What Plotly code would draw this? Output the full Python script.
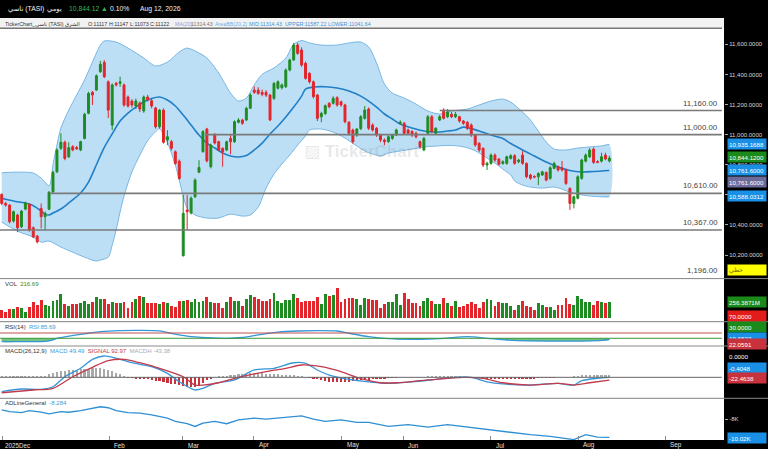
import plotly.graph_objects as go

W, H = 768, 449

# ---------------- data ----------------
open_ = [10603,10543,10532,10426,10466,10388,10505,10538,10381,10326,
         10510,10455,10505,10620,10753,10909,10949,10853,10920,10915,
         10898,10975,11142,11281,11296,11418,11480,11351,11063,11341,
         11341,11330,11250,11223,11190,11210,11157,11250,11225,11177,
         11052,11163,10964,10953,10886,10824,10196,10499,10479,10587,
         10750,10887,11037,10787,10997,10953,10909,10898,10975,10953,
         11082,11097,11097,11175,11296,11296,11281,11281,11263,11241,
         11308,11312,11318,11429,11496,11595,11562,11474,11407,11351,
         11263,11119,11141,11208,11208,11245,11219,11197,11082,11031,
         10997,11040,11108,11170,11064,11042,10997,10964,10953,10975,
         10997,11075,11075,11031,11020,11009,10953,10898,11009,11119,
         11009,11097,11163,11119,11135,
         11119,11119,11090,11082,11064,10997,10942,10909,10798,10809,
         10864,10838,10809,10809,10842,10860,10820,10864,10809,10732,
         10722,10720,10732,10749,10710,10776,10787,10780,10765,10643,
         10543,10577,10710,10824,10853,10904,10820,10824,10864,10825]
high = [10610,10554,10538,10495,10475,10500,10555,10545,10390,10333,
        10543,10490,10625,10760,10910,11009,10960,10950,10930,10925,
        10960,11145,11285,11290,11400,11490,11495,11360,11340,11350,
        11385,11340,11260,11235,11240,11220,11260,11265,11240,11185,
        11170,11175,11030,10965,10895,10835,10599,10599,10590,10710,
        10830,11030,11045,10940,11010,10960,10915,10960,11000,11095,
        11110,11105,11185,11275,11320,11315,11300,11295,11270,11350,
        11360,11340,11440,11505,11610,11610,11580,11485,11415,11360,
        11270,11152,11200,11215,11255,11255,11225,11205,11090,11040,
        11045,11130,11190,11180,11075,11050,11005,10975,10995,11005,
        11040,11095,11085,11040,11030,11020,10960,10985,11130,11130,
        11050,11130,11175,11170,11150,
        11150,11125,11097,11090,11075,11005,10950,10915,10820,10875,
        10875,10845,10830,10860,10870,10870,10840,10890,10815,10740,
        10730,10750,10760,10755,10790,10820,10795,10825,10775,10650,
        10595,10730,10840,10875,10910,10915,10830,10880,10880,10860]
low = [10532,10521,10410,10415,10352,10380,10498,10355,10312,10278,
       10377,10366,10498,10612,10745,10898,10830,10845,10890,10900,
       10890,10968,11135,11197,11290,11410,11375,11110,11030,11320,
       11318,11185,11180,11180,11170,11150,11145,11220,11175,11040,
       11040,10940,10930,10895,10800,10700,10190,10366,10470,10580,
       10745,10880,10815,10775,10935,10890,10787,10890,10870,10945,
       11075,11065,11090,11170,11270,11265,11255,11250,11090,11230,
       11300,11300,11310,11420,11490,11530,11450,11365,11340,11240,
       11090,11082,11130,11175,11200,11185,11185,11075,10995,10940,
       10985,11030,11100,11030,11020,10985,10950,10930,10945,10965,
       10990,11065,11000,11000,10985,10975,10905,10890,11000,11010,
       11000,11090,11100,11110,11110,
       11110,11080,11065,11030,10985,10920,10885,10785,10765,10800,
       10820,10795,10800,10800,10835,10800,10810,10800,10710,10700,
       10710,10665,10725,10690,10700,10770,10755,10755,10665,10500,
       10510,10570,10700,10815,10845,10805,10810,10815,10830,10815]
close = [10543,10532,10421,10488,10381,10492,10547,10366,10321,10288,
         10455,10477,10617,10749,10898,10949,10842,10913,10898,10905,
         10953,11135,11274,11263,11391,11467,11385,11163,11330,11330,
         11351,11197,11190,11197,11223,11170,11250,11230,11190,11052,
         11163,10949,10986,10909,10809,10709,10477,10488,10578,10698,
         10782,11020,10826,10931,10945,10898,10886,10953,10953,11086,
         11097,11075,11175,11263,11281,11274,11268,11263,11097,11340,
         11351,11330,11429,11496,11595,11540,11462,11374,11351,11252,
         11108,11141,11192,11185,11241,11197,11197,11086,11009,10953,
         11037,11119,11163,11042,11031,10997,10964,10953,10986,10997,
         11031,11082,11009,11009,10997,10986,10920,10975,11119,11020,
         11042,11119,11108,11152,11119,
         11135,11090,11075,11042,10997,10931,10898,10798,10810,10864,
         10831,10803,10820,10853,10860,10809,10831,10809,10720,10710,
         10718,10742,10753,10698,10780,10809,10765,10765,10676,10543,
         10587,10720,10831,10864,10898,10816,10816,10853,10838,10844.12]
volume = [128,92,139,139,169,154,103,180,246,205,
          282,205,195,267,282,374,215,190,215,215,
          241,267,215,256,323,292,292,215,246,231,
          231,246,154,246,292,349,333,231,231,231,
          221,246,231,190,169,272,267,282,246,303,
          256,272,333,246,231,231,164,251,333,267,
          267,195,298,364,323,303,267,267,292,395,
          267,231,282,282,369,318,256,267,272,272,
          323,221,369,344,359,462,
          256,292,308,318,292,205,318,292,282,282,
          164,215,246,246,374,205,385,292,231,231,
          190,272,318,267,215,215,308,231,190,272,
          180,190,215,246,221,154,246,298,282,195,
          246,231,231,190,128,205,267,195,180,128,
          241,205,180,180,128,205,205,308,215,205,
          344,298,256,256,205,272,256,231,256.3871]

bb_up_x = [0,4,8,10,12,13,14,15,17,19,21,23,25,26,29,32,36,39,42,45,
           47,50,52,55,58,60,62,64,66,69,72,74,76,78,81,85,88,91,93,95,
           97,99,102,105,108,111,114,118,121,124,127,129,132,134,136,138,140,143,146,149,
           152,154]
bb_up_v = [10747,10751,10745,10712,10660,10800,10931,11044,11163,11263,11363,11482,11595,11622,11615,11575,11509,11456,11482,11549,
           11575,11542,11509,11409,11276,11223,11243,11330,11400,11443,11509,11600,11625,11609,11595,11595,11609,11615,11582,11476,
           11336,11276,11243,11203,11157,11137,11157,11170,11197,11223,11236,11216,11150,11097,11024,10951,10904,10898,10911,10918,
           10925,10935.1688]
bb_lo_x = [0,4,8,10,12,15,18,21,24,25,27,28,29,30,31,33,35,37,39,40,
           41,42,44,45,46,47,49,52,55,58,61,63,65,67,69,71,73,75,77,78,
           81,84,87,90,92,94,96,98,101,104,107,110,113,116,119,121,123,125,127,129,
           130,132,134,137,140,142,144,146,148,151,154]
bb_lo_v = [10419,10359,10319,10286,10293,10253,10219,10186,10160,10167,10186,10266,10366,10486,10592,10752,10864,10960,11020,11040,
           11000,10950,10798,10698,10592,10512,10466,10446,10446,10472,10459,10466,10519,10645,10738,10805,10864,10931,10991,11031,
           11037,11017,10977,10924,10891,10871,10858,10878,10891,10904,10918,10924,10928,10924,10904,10878,10844,10811,10771,10732,
           10692,10665,10652,10645,10652,10638,10618,10605,10595,10588,10588.0312]
bb_mid_x = [0,3,7,9,11,12,13,15,17,20,22,24,26,28,30,32,34,36,38,
            40,42,44,46,48,50,52,54,56,58,60,62,64,66,68,70,72,74,76,77,
            79,82,85,88,91,93,95,97,99,101,104,107,110,113,115,117,119,121,124,127,
            129,132,135,138,141,144,147,150,154]
bb_mid_v = [10577,10559,10539,10512,10472,10466,10479,10506,10546,10612,10685,10800,10915,11005,11090,11143,11183,11217,11240,
            11250,11230,11190,11130,11064,10997,10944,10911,10878,10858,10851,10861,10898,10944,11004,11057,11117,11183,11256,11303,
            11316,11318,11310,11290,11256,11223,11183,11137,11104,11070,11044,11024,11017,11024,11031,11050,11040,11024,10997,10974,
            10941,10898,10858,10818,10785,10762,10752,10755,10761.6]

rsi_x = [0,6,11,13,14,16,19,22,25,30,35,40,43,47,52,57,60,63,66,70,75,80,85,88,93,98,105,112,118,123,128,133,140,147,151,154]
rsi_v = [5,5,6,18,30,40,55,68,80,88,90,86,67,47,35,30,34,45,60,77,85,88,85,68,42,27,22,30,42,30,17,10,9,9,12,19.65]

macd_x = [0,5,10,13,16,20,23,26,29,33,38,42,45,49,51,54,59,64,69,74,77,80,83,88,93,98,104,110,115,119,123,127,134,141,145,147,151,154]
macd_v = [-119,-97,-100,-78,5,75,149,177,158,121,88,33,-37,-105,-91,-50,-22,61,75,121,116,61,19,-17,-37,-50,-37,-17,0,0,-37,-55,-64,-50,-64,-28,-8,-0.4048]
signal_x = [0,8,13,18,23,27,31,35,40,46,49,51,55,60,67,72,76,81,86,90,96,100,108,117,122,127,134,141,145,149,154]
signal_v = [-128,-105,-91,5,83,138,149,121,75,5,-64,-64,-45,0,47,75,102,88,47,0,-45,-45,-22,0,-8,-45,-64,-50,-64,-45,-22.4638]
macd_hist = [8,8,8,8,8,8,8,8,8,10,12,15,
             25,33,41,
             50,55,58,62,64,66,
             70,72,74,75,74,72,
             62,50,38,25,12,
             -5,-8,-10,-13,-16,-18,-22,-28,-34,-40,-45,-52,-58,-64,-72,-80,-84,-78,-66,-45,-25,
             -10,
             5,8,12,15,18,22,25,28,30,32,33,33,32,30,28,26,24,22,20,18,16,14,10,6,
             -4,-10,-18,-26,-34,-40,-42,-42,-40,-38,-35,-32,-30,-26,
             -22,-20,-18,-15,-12,-10,-8,-5,-3,
             -1,1,2,3,4,5,6,
             8,10,12,14,14,13,12,10,8,5,
             2,-2,-5,
             -8,-10,-12,-14,-15,-16,-16,-16,-15,-14,-13,-12,-11,-10,-10,-9,-8,-6,-4,
             -2,0,2,4,6,10,14,
             18,20,21,22,22,22,22,22]

adl_x = [0,2,5,7,10,12,15,17,20,22,25,27,29,32,35,38,42,44,47,49,51,54,57,60,64,67,70,72,76,79,
         82,86,90,93,98,103,108,113,118,123,128,134,139,142,145,148,151,154]
adl_v = [-6.98,-7.16,-7.27,-7.05,-7.23,-7.41,-7.16,-7.23,-7.05,-6.91,-6.62,-6.73,-7.05,-7.27,-7.34,-7.52,-7.89,-8.25,-8.51,-8.81,
         -8.44,-8.25,-8.51,-8.08,-7.89,-8.0,-7.89,-7.82,-7.63,-8.0,-8.25,-8.08,-8.36,-8.36,-8.81,-8.62,-8.88,-8.62,-8.88,-9.18,
         -9.36,-9.73,-9.91,-10.1,-10.28,-9.73,-9.99,-10.02]

month_labels = ["2025Dec", "Feb", "Mar", "Apr", "May", "Jun", "Jul", "Aug", "Sep"]
month_pos = [0.08, 27.3, 45.9, 63.9, 86.2, 101.7, 124.0, 146.05, 168.1]

hline_vals = [11160, 11000, 10610, 10367]
hline_from = [111, 51.5, 12.2, -0.43]
hline_text = ["11,160.00", "11,000.00", "10,610.00", "10,367.00"]

price_ticks = [10200, 10400, 10600, 10800, 11000, 11200, 11400, 11600]

# ---------------- styling ----------------
FONT = "Liberation Sans, Arial, DejaVu Sans, sans-serif"
GREEN = "#1e8c22"
RED = "#e2262b"
BLUE = "#3596d8"
X_RANGE = [-0.431, 183.05]
X_END = 182.5
XDOM = [0, 724 / W]
P_RANGE = [10043.7, 11708.3]


def py(y):
    return 1 - y / H


def px(x):
    return x / W


idx = list(range(len(close)))
up = [c >= o for o, c in zip(open_, close)]

fig = go.Figure()

# Bollinger area (base price axis)
fig.add_trace(go.Scatter(x=bb_up_x + bb_lo_x[::-1], y=bb_up_v + bb_lo_v[::-1], fill="toself",
                         fillcolor="#bddff6", line=dict(width=0, shape="spline", smoothing=0.8),
                         mode="lines", hoverinfo="skip", xaxis="x", yaxis="y"))
for xs, vs in ((bb_up_x, bb_up_v), (bb_lo_x, bb_lo_v)):
    fig.add_trace(go.Scatter(x=xs, y=vs, mode="lines", line=dict(color="#78b6e2", width=1, shape="spline", smoothing=0.8),
                             hoverinfo="skip", xaxis="x", yaxis="y"))
fig.add_trace(go.Scatter(x=bb_mid_x, y=bb_mid_v, mode="lines", line=dict(color="#1f7fc8", width=1.6, shape="spline", smoothing=0.8),
                         hoverinfo="skip", xaxis="x", yaxis="y"))

# candles on an overlaying axis so they sit above the band fill
fig.add_trace(go.Candlestick(x=idx, open=open_, high=high, low=low, close=close,
                             increasing=dict(line=dict(color=GREEN, width=1), fillcolor=GREEN),
                             decreasing=dict(line=dict(color=RED, width=1), fillcolor=RED),
                             whiskerwidth=0, xaxis="x", yaxis="y6", hoverinfo="skip"))

# Volume
fig.add_trace(go.Bar(x=idx, y=volume, marker=dict(color=[GREEN if u else RED for u in up], line_width=0),
                     width=0.72, xaxis="x2", yaxis="y2", hoverinfo="skip"))


# RSI fills
def zone_polys(xs, vs, thr):
    polys, cur = [], []
    for xv, vv in zip(xs, vs):
        if vv <= thr:
            cur.append((xv, vv))
        else:
            if len(cur) >= 2:
                polys.append(cur)
            cur = []
    if len(cur) >= 2:
        polys.append(cur)
    return polys


for poly in zone_polys(rsi_x, rsi_v, 30):
    xs = [poly[0][0]] + [p[0] for p in poly] + [poly[-1][0]]
    ys = [30] + [p[1] for p in poly] + [30]
    fig.add_trace(go.Scatter(x=xs, y=ys, fill="toself", fillcolor="rgba(70,175,80,0.75)", mode="lines",
                             line=dict(width=0, shape="spline", smoothing=0.8), hoverinfo="skip", xaxis="x3", yaxis="y3"))
fig.add_trace(go.Scatter(x=rsi_x, y=rsi_v, mode="lines", line=dict(color=BLUE, width=1.3, shape="spline", smoothing=0.8),
                         hoverinfo="skip", xaxis="x3", yaxis="y3"))

# MACD
fig.add_trace(go.Bar(x=idx, y=macd_hist, marker=dict(color=["#a9a9a9" if h >= 0 else "#c8323c" for h in macd_hist], line_width=0),
                     width=0.55, xaxis="x4", yaxis="y4", hoverinfo="skip"))
fig.add_trace(go.Scatter(x=macd_x, y=macd_v, mode="lines", line=dict(color=BLUE, width=1.3, shape="spline", smoothing=0.8),
                         hoverinfo="skip", xaxis="x4", yaxis="y4"))
fig.add_trace(go.Scatter(x=signal_x, y=signal_v, mode="lines", line=dict(color="#c23a4c", width=1.3, shape="spline", smoothing=0.8),
                         hoverinfo="skip", xaxis="x4", yaxis="y4"))

# AD line
fig.add_trace(go.Scatter(x=adl_x, y=adl_v, mode="lines", line=dict(color="#2f8fd3", width=1.3),
                         hoverinfo="skip", xaxis="x5", yaxis="y5"))

# ---------------- shapes ----------------
shapes = []
shapes.append(dict(type="rect", xref="paper", yref="paper", x0=0, x1=px(724), y0=py(28), y1=py(18),
                   fillcolor="#f2f2f2", line_width=0, layer="below"))
shapes.append(dict(type="line", xref="paper", yref="paper", x0=0, x1=px(722), y0=py(28.3), y1=py(28.3),
                   line=dict(color="#777", width=1.5)))
for ysep in (278.6, 321.7, 346.0, 398.3):
    shapes.append(dict(type="line", xref="paper", yref="paper", x0=0, x1=1, y0=py(ysep), y1=py(ysep),
                       line=dict(color="#8a8a8a", width=1)))
for v, x0 in zip(hline_vals, hline_from):
    shapes.append(dict(type="line", xref="x", yref="y", x0=x0, x1=X_END, y0=v, y1=v,
                       line=dict(color="#7a7a7a", width=1.6)))
shapes.append(dict(type="line", xref="x", yref="y3", x0=X_RANGE[0], x1=X_END, y0=70, y1=70, line=dict(color="#c0504d", width=1)))
shapes.append(dict(type="line", xref="x", yref="y3", x0=X_RANGE[0], x1=X_END, y0=30, y1=30, line=dict(color="#3a9a3a", width=1)))
shapes.append(dict(type="line", xref="x", yref="y4", x0=X_RANGE[0], x1=X_END, y0=0, y1=0, line=dict(color="#666", width=1)))

# ---------------- annotations ----------------
ann = []


def text(x, y, s, color="#333", size=7, anchor="left", bold=False):
    ann.append(dict(x=px(x), y=py(y), xref="paper", yref="paper", text=("<b>%s</b>" % s) if bold else s,
                    showarrow=False, xanchor=anchor, yanchor="middle", font=dict(family=FONT, size=size, color=color)))


# header line 1
text(6, 9, "تاسي (TASI)", "#f0f0f0", 6.8)
text(45, 9, "يومي", "#f0f0f0", 6.8)
text(67, 9, "10,844.12", "#3cb54a", 6.8)
text(99, 9, "▲", "#3cb54a", 6.8)
text(108, 9, "0.10%", "#f0f0f0", 6.8)
text(138, 9, "Aug 12, 2026", "#f0f0f0", 6.8)
# header line 2
L2 = 5.3
text(3, 24, "TickerChart_تاسي (TASI) الشرق", "#333", L2)
text(86, 24, "O:11117", "#333", L2)
text(107, 24, "H:11147", "#333", L2)
text(128, 24, "L:11073", "#333", L2)
text(148, 24, "C:11122", "#333", L2)
text(173, 24, "MA(20)", "#9b99c9", L2)
text(189, 24, "11314.43", "#777", L2)
text(213, 24, "AreaBB(20,2)", "#5db2ea", L2)
text(247, 24, "MID:11314.43", "#3d93da", L2)
text(283, 24, "UPPER:11587.22", "#3d93da", L2)
text(326, 24, "LOWER:11041.64", "#3d93da", L2)

# horizontal line labels
for v, s in zip(hline_vals, hline_text):
    ann.append(dict(x=px(720), y=v, xref="paper", yref="y", text=s, showarrow=False, xanchor="right", yanchor="bottom",
                    yshift=1, font=dict(family=FONT, size=7.8, color="#444")))
text(720, 270, "1,196.00", "#444", 7.8, anchor="right")

# watermark
text(302, 151, "▨ TickerChart", "rgba(150,150,150,0.22)", 17, bold=True)

# panel titles
T = 6
text(3, 284, 'VOL  <span style="color:#2e8b2e">216.69</span>', "#333", T)
text(3, 326.5, 'RSI(14)  <span style="color:#3d9ad6">RSI:85.69</span>', "#333", T)
text(3, 350.5, 'MACD(26,12,9)  <span style="color:#3d9ad6">MACD 49.49</span>  <span style="color:#c23a4c">SIGNAL 92.97</span>  '
               '<span style="color:#aaa">MACDH -43.38</span>', "#333", T)
text(3, 402.5, 'ADLineGeneral  <span style="color:#3d9ad6">-8.284</span>', "#333", T)

# right-side value boxes
boxes = [
    (143.5, "10,935.1688", "#1a8fe6", "white"),
    (157.0, "10,844.1200", "#1a8a1a", "white"),
    (170.0, "10,761.6000", "#1a8fe6", "white"),
    (181.7, "10,761.6000", "#6d6a9c", "white"),
    (195.8, "10,588.0312", "#1a8fe6", "white"),
    (269.5, "خطي", "#ffff00", "#7a6a00"),
    (301.7, "256.3871M", "#1a8a1a", "white"),
    (315.7, "70.0000", "#e21b1b", "white"),
    (327.3, "30.0000", "#1a8a1a", "white"),
    (337.7, "19.6522", "#1a8fe6", "white"),
    (344.2, "22.0591", "#c8323c", "white"),
    (356.0, "0.0000", "#000000", "white"),
    (367.7, "-0.4048", "#1a8fe6", "white"),
    (378.3, "-22.4638", "#c8323c", "white"),
    (437.7, "-10.02K", "#1a8fe6", "white"),
]
for yb, s, bg, fg in boxes:
    ann.append(dict(x=px(727), y=py(yb), xref="paper", yref="paper", text=s, showarrow=False, xanchor="left",
                    yanchor="middle", bgcolor=bg, borderpad=1, width=36, height=8, align="left",
                    font=dict(family=FONT, size=6.2, color=fg)))

# month labels
for lab, pos in zip(month_labels, month_pos):
    ann.append(dict(x=pos, y=py(445), xref="x", yref="paper", text=lab, showarrow=False,
                    xanchor="left", yanchor="middle", xshift=(1 if lab == "2025Dec" else 3),
                    font=dict(family=FONT, size=6.3, color="#e0e0e0")))


# ---------------- layout ----------------
def xax(anchor, **kw):
    d = dict(domain=XDOM, range=X_RANGE, showgrid=False, zeroline=False, showticklabels=False, showline=False,
             anchor=anchor, fixedrange=True)
    d.update(kw)
    return d


def yax(dom, rng, **kw):
    d = dict(domain=dom, range=rng, showgrid=False, zeroline=False, showticklabels=False, showline=False,
             side="right", fixedrange=True, automargin=False)
    d.update(kw)
    return d


MAIN_DOM = [py(278.6), py(28)]
layout = dict(
    width=W, height=H, margin=dict(l=0, r=0, t=0, b=0),
    paper_bgcolor="#000000", plot_bgcolor="#ffffff", showlegend=False,
    font=dict(family=FONT), shapes=shapes, annotations=ann, bargap=0,
    xaxis=xax("y", rangeslider=dict(visible=False)),
    xaxis2=xax("y2", matches="x"),
    xaxis3=xax("y3", matches="x"),
    xaxis4=xax("y4", matches="x"),
    xaxis5=xax("y5", matches="x", ticks="inside", tickvals=month_pos, ticklen=4, tickwidth=1, tickcolor="#888"),
    yaxis=yax(MAIN_DOM, P_RANGE, showticklabels=True, tickvals=price_ticks,
              tickformat=",.4f", ticks="outside", ticklen=3, tickcolor="#aaa",
              tickfont=dict(family=FONT, size=6, color="#d8d8d8")),
    yaxis6=yax(MAIN_DOM, P_RANGE, overlaying="y", anchor="x"),
    yaxis2=yax([py(321.7), py(278.6)], [-52.4, 612.9]),
    yaxis3=yax([py(346), py(321.7)], [-28.2, 155.3]),
    yaxis4=yax([py(398.3), py(346)], [-174, 259.8]),
    yaxis5=yax([py(440), py(398.3)], [-10.32, -5.68], showticklabels=True, tickvals=[-8], ticktext=["-8K"],
               ticks="outside", ticklen=3, tickcolor="#aaa", tickfont=dict(family=FONT, size=6, color="#d8d8d8")),
)
fig.update_layout(**layout)
fig.write_html("out.html", config={"displayModeBar": False, "staticPlot": True},
               post_script="document.body.style.margin='0';document.body.style.padding='0';document.body.style.overflow='hidden';")
